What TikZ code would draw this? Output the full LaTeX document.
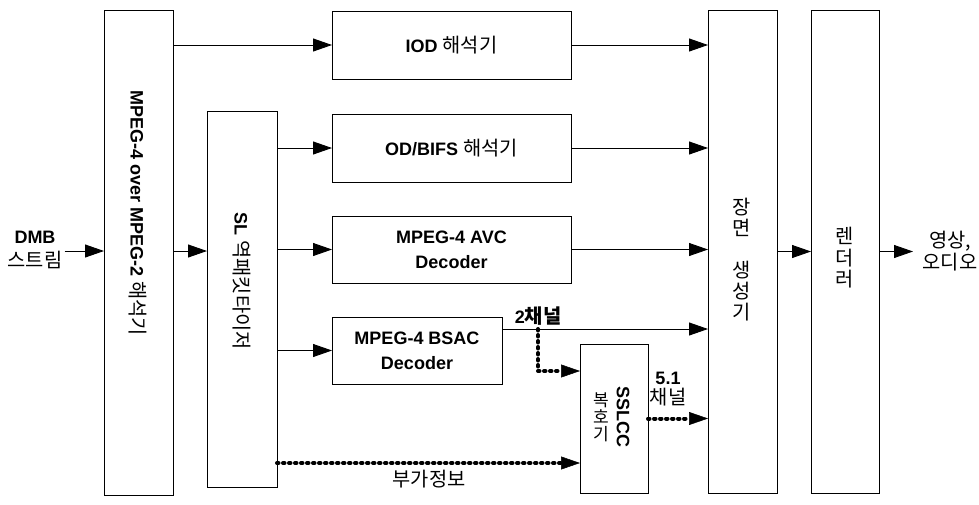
\documentclass[tikz,border=0pt]{standalone}
\usepackage{fontspec}
\setmainfont{Liberation Sans}
\newfontfamily\kr{Noto Sans CJK KR}[Scale=1.1]
\usetikzlibrary{arrows.meta}
\begin{document}
\begin{tikzpicture}[x=1pt,y=-1pt,
  box/.style={draw, line width=0.9pt, inner sep=0pt, outer sep=0pt, align=center,
    font=\fontsize{18}{25}\selectfont},
  arr/.style={line width=0.9pt, -{Triangle[length=19pt,width=13pt]}},
  dotarr/.style={line width=4pt, line cap=round, dash pattern=on 1.5pt off 4.5pt,
    -{Triangle[length=19pt,width=13pt,line width=0.5pt]}},
  lbl/.style={font=\fontsize{18}{22}\selectfont, align=center, inner sep=0pt}]
\useasboundingbox (0,0) rectangle (979,504);
% boxes
\node[box, minimum width=69pt, minimum height=485pt] (outer) at (138.5,252.5) {};
\node[box, minimum width=70pt, minimum height=376pt] (sl) at (242,299) {};
\node[box, minimum width=239pt, minimum height=68pt] (iod) at (451.5,45) {{\bfseries IOD} {\kr 해석기}};
\node[box, minimum width=239pt, minimum height=68pt] (od) at (451.5,148) {{\bfseries OD/BIFS} {\kr 해석기}};
\node[box, minimum width=239pt, minimum height=67pt] (avc) at (451.5,249.5) {\bfseries MPEG-4 AVC\\\bfseries Decoder};
\node[box, minimum width=170pt, minimum height=67pt] (bsac) at (417,350.5) {\bfseries MPEG-4 BSAC\\\bfseries Decoder};
\node[box, minimum width=68pt, minimum height=149pt] (sslcc) at (614,418.5) {};
\node[box, minimum width=69pt, minimum height=483pt] (scene) at (742.5,251.5) {};
\node[box, minimum width=68pt, minimum height=483pt] (render) at (845,251.5) {};
% texts in tall boxes
\node[lbl, rotate=-90] (outert) at (138,213) {\bfseries MPEG-4 over MPEG-2 {\kr\mdseries 해석기}};
\node[lbl, rotate=-90] (slt) at (242,281) {\bfseries SL {\kr\mdseries 역패킷타이저}};
\node[lbl, font=\fontsize{18}{21}\selectfont\kr] (scenet) at (742,260) {장\\면\\[21pt]생\\성\\기};
\node[lbl, font=\fontsize{18}{21.5}\selectfont\kr] (rendert) at (845,258) {렌\\더\\러};
\node[lbl, rotate=-90] (sslcct) at (623,417) {\bfseries SSLCC};
\node[lbl, font=\fontsize{15.5}{17}\selectfont\kr] (decot) at (601,417) {복\\호\\기};
% outside labels
\node[lbl, font=\fontsize{18}{24}\selectfont] (dmb) at (35,250) {\bfseries DMB\\{\kr 스트림}};
\node[lbl, font=\fontsize{18}{22}\selectfont\kr] (out) at (950,251) {영상,\\오디오};
\node[lbl] (ch2) at (538,316) {\bfseries 2{\kr 채널}};
\node[lbl, font=\fontsize{18}{20}\selectfont] (ch51) at (668,389) {\bfseries 5.1\\{\kr 채널}};
\node[lbl, font=\fontsize{18}{22}\selectfont\kr] (side) at (429,479) {부가정보};
% connectors
\draw[arr] (dmb.east |- 0,251) ++(2,0) -- (outer.west |- 0,251);
\draw[arr] (outer.east |- 0,251) -- (sl.west |- 0,251);
\draw[arr] (outer.east |- iod.west) -- (iod.west);
\draw[arr] (sl.east |- od.west) -- (od.west);
\draw[arr] (sl.east |- avc.west) -- (avc.west);
\draw[arr] (sl.east |- bsac.west) -- (bsac.west);
\draw[arr] (iod.east) -- (scene.west |- iod.east);
\draw[arr] (od.east) -- (scene.west |- od.east);
\draw[arr] (avc.east) -- (scene.west |- avc.east);
\coordinate (br) at (538,329);
\draw[arr] (bsac.east |- br) -- (scene.west |- br);
\draw[dotarr] (br) |- (sslcc.west |- 0,371);
\draw[dotarr] (sl.east |- 0,463) -- (sslcc.west |- 0,463);
\draw[dotarr] (sslcc.east) -- (scene.west |- sslcc.east);
\draw[arr] (scene.east) -- (render.west);
\coordinate (oute) at (913,251.5);
\draw[arr] (render.east) -- (oute);
\end{tikzpicture}
\end{document}
